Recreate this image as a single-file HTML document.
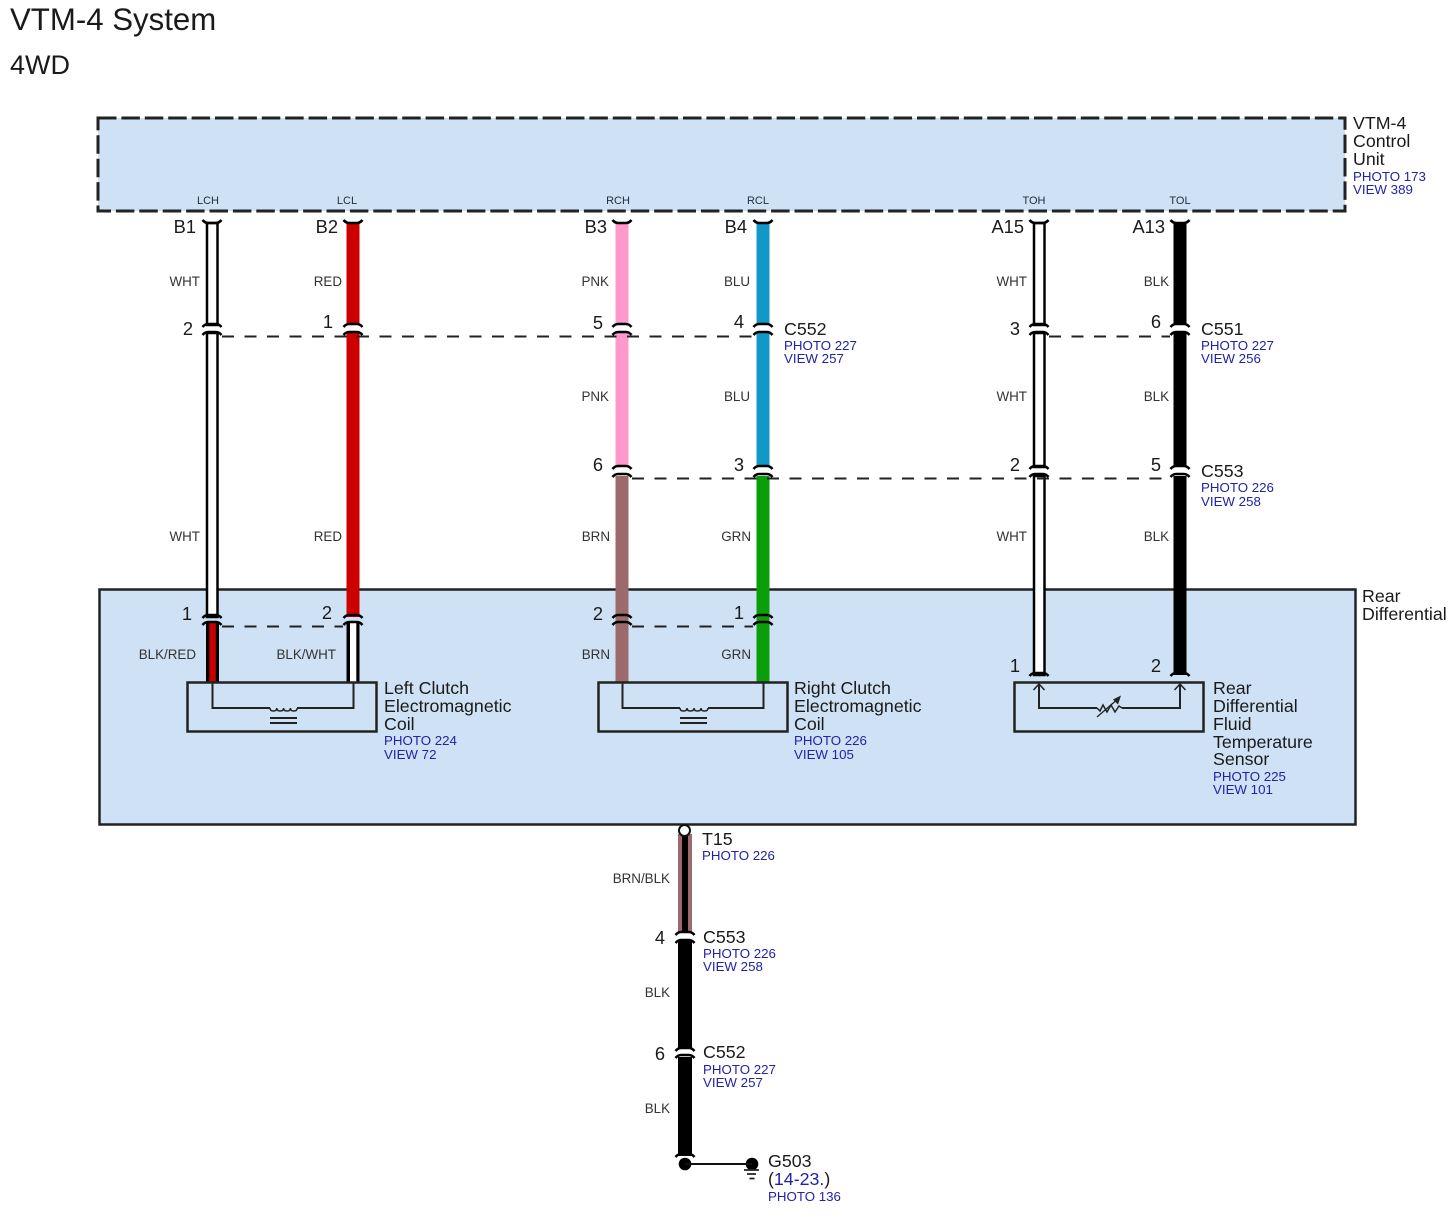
<!DOCTYPE html>
<html><head><meta charset="utf-8"><style>
html,body{margin:0;padding:0;background:#fff}
svg{display:block}
text{font-family:"Liberation Sans",sans-serif;fill:#1a1a1a}
.h{font-size:17.800px}.p{font-size:13.300px;fill:#2222a8}.w{font-size:13.400px;fill:#333;text-anchor:end}.t{font-size:11px;fill:#1c2c44;text-anchor:middle}.n{font-size:18.300px;text-anchor:end}
</style></head><body>
<svg width="1454" height="1222" viewBox="0 0 1454 1222" xmlns="http://www.w3.org/2000/svg">
<defs>
<path id="ct" d="M-9.500 3Q-7 0 -4 0L4 0Q7 0 9.500 3" fill="none" stroke="#000" stroke-width="2.600"/>
<path id="cb" d="M-9.500 3Q-7 0 -4 0L4 0Q7 0 9.500 3" fill="none" stroke="#000" stroke-width="2.600"/>
<path id="cu" d="M-9.500 -2Q-7 1 -4 1L4 1Q7 1 9.500 -2" fill="none" stroke="#000" stroke-width="2.600"/>
</defs>
<rect width="1454" height="1222" fill="#fff"/>
<text x="10" y="30" style="font-size:31.200px">VTM-4 System</text>
<text x="10" y="74" style="font-size:27px">4WD</text>

<rect x="98" y="118" width="1247" height="93" fill="#cfe2f5" stroke="#222" stroke-width="3" stroke-dasharray="18.500 4.900"/>
<rect x="99.500" y="589.500" width="1256" height="235" fill="#cfe2f5" stroke="#222" stroke-width="2.500"/>

<g class="wires">
<!-- 212 -->
<rect x="207" y="223" width="10.500" height="102" fill="#fff" stroke="#000" stroke-width="2.500"/>
<rect x="207" y="333" width="10.500" height="284" fill="#fff" stroke="#000" stroke-width="2.500"/>
<rect x="206" y="623" width="13" height="59" fill="#000"/><rect x="209.300" y="623" width="6.500" height="59" fill="#c80000"/>
<!-- 353 -->
<rect x="346.500" y="223" width="13" height="102" fill="#cc0000"/>
<rect x="346.500" y="333" width="13" height="284" fill="#cc0000"/>
<rect x="346.500" y="623" width="13" height="59" fill="#000"/><rect x="350" y="623" width="6.300" height="59" fill="#fff"/>
<!-- 622 -->
<rect x="615.500" y="223" width="13" height="102" fill="#ff99cc"/>
<rect x="615.500" y="333" width="13" height="134" fill="#ff99cc"/>
<rect x="615.500" y="476" width="13" height="206" fill="#9c6a6a"/>
<!-- 763 -->
<rect x="756.500" y="223" width="13" height="102" fill="#0f98c8"/>
<rect x="756.500" y="333" width="13" height="134" fill="#0f98c8"/>
<rect x="756.500" y="476" width="13" height="206" fill="#0a9e0a"/>
<!-- 1039 -->
<rect x="1034" y="223" width="10.500" height="102" fill="#fff" stroke="#000" stroke-width="2.500"/>
<rect x="1034" y="333" width="10.500" height="134" fill="#fff" stroke="#000" stroke-width="2.500"/>
<rect x="1034" y="476" width="10.500" height="199" fill="#fff" stroke="#000" stroke-width="2.500"/>
<!-- 1180 -->
<rect x="1173.500" y="223" width="13" height="102" fill="#000"/>
<rect x="1173.500" y="333" width="13" height="134" fill="#000"/>
<rect x="1173.500" y="476" width="13" height="199" fill="#000"/>
<!-- bottom -->
<rect x="678" y="834" width="14" height="99" fill="#9c6a6a"/><rect x="682" y="834" width="6" height="99" fill="#000"/>
<rect x="678" y="941" width="14" height="107" fill="#000"/>
<rect x="678" y="1057" width="14" height="99" fill="#000"/>
</g>

<g fill="none" stroke="#222" stroke-width="2" stroke-dasharray="12 10.500">
<path d="M222 336.500H753"/><path d="M1049 336.500H1170"/>
<path d="M632 478.500H1170"/>
<path d="M222 626.500H343"/><path d="M632 626.500H753"/>
</g>

<!-- connector caps -->
<use href="#cu" x="212" y="222"/><use href="#cu" x="353" y="222"/><use href="#cu" x="622" y="222"/><use href="#cu" x="763" y="222"/><use href="#cu" x="1039" y="222"/><use href="#cu" x="1180" y="222"/>
<use href="#ct" x="212" y="324"/><use href="#ct" x="353" y="324"/><use href="#ct" x="622" y="324"/><use href="#ct" x="763" y="324"/><use href="#ct" x="1039" y="324"/><use href="#ct" x="1180" y="324"/>
<use href="#cb" x="212" y="332"/><use href="#cb" x="353" y="332"/><use href="#cb" x="622" y="332"/><use href="#cb" x="763" y="332"/><use href="#cb" x="1039" y="332"/><use href="#cb" x="1180" y="332"/>
<use href="#ct" x="622" y="466"/><use href="#ct" x="763" y="466"/><use href="#ct" x="1039" y="466"/><use href="#ct" x="1180" y="466"/>
<use href="#cb" x="622" y="474"/><use href="#cb" x="763" y="474"/><use href="#cb" x="1039" y="474"/><use href="#cb" x="1180" y="474"/>
<use href="#ct" x="212" y="615"/><use href="#ct" x="353" y="615"/><use href="#ct" x="622" y="615"/><use href="#ct" x="763" y="615"/>
<use href="#cb" x="212" y="622"/><use href="#cb" x="353" y="622"/><use href="#cb" x="622" y="622"/><use href="#cb" x="763" y="622"/>
<use href="#ct" x="1039" y="673"/><use href="#ct" x="1180" y="673"/>
<use href="#ct" x="685" y="932"/><use href="#cb" x="685" y="940"/>
<use href="#ct" x="685" y="1048"/><use href="#cb" x="685" y="1055"/>
<use href="#ct" x="685" y="1154"/>

<!-- components -->
<g fill="none" stroke="#222" stroke-width="2">
<rect x="187.500" y="682.500" width="189" height="49" stroke-width="2.500"/>
<path d="M212.500 683V708H270M297 708H353.500V683"/>
<path d="M270 708q0 3 3.400 3t3.400 -3q0 3 3.400 3t3.400 -3q0 3 3.400 3t3.400 -3q0 3 3.400 3t3.400 -3" stroke-width="1.500"/>
<path d="M270 718H297M270 723H297"/>
<rect x="598.500" y="682.500" width="189" height="49" stroke-width="2.500"/>
<path d="M622.500 683V708H680M708 708H763.500V683"/>
<path d="M680 708q0 3 3.500 3t3.500 -3q0 3 3.500 3t3.500 -3q0 3 3.500 3t3.500 -3q0 3 3.500 3t3.500 -3" stroke-width="1.500"/>
<path d="M680 718H707M680 723H707"/>
<rect x="1014.500" y="682.500" width="189" height="49" stroke-width="2.500"/>
<path d="M1039 684V708H1097M1122 708H1180V684"/>
<path d="M1033.500 690L1039 684L1044.500 690M1174.500 690L1180 684L1185.500 690" stroke-width="1.500"/>
<path d="M1097 708l3 3 3 -6 4 7 4 -7 4 7 4 -6 3 2" stroke-width="1.500"/>
<path d="M1097 717L1119 698" stroke-width="1.300"/>
<path d="M1121 695.500L1113 699.500L1118 704.500Z" fill="#222" stroke="none"/>
</g>

<!-- bottom dots -->
<circle cx="684.500" cy="830.500" r="5.500" fill="#fff" stroke="#111" stroke-width="2"/>
<circle cx="685" cy="1164" r="6.300" fill="#000"/>
<circle cx="752" cy="1164" r="6.300" fill="#000"/>
<path d="M685 1164H752" stroke="#111" stroke-width="2"/>
<path d="M744 1170H759M747 1174H756M749.500 1178.500H754.500" stroke="#222" stroke-width="1.800"/>

<!-- pin names -->
<text class="t" x="208" y="204">LCH</text><text class="t" x="347" y="204">LCL</text><text class="t" x="618" y="204">RCH</text><text class="t" x="758" y="204">RCL</text><text class="t" x="1034" y="204">TOH</text><text class="t" x="1180" y="204">TOL</text>

<!-- pin ids -->
<text class="n" x="196" y="233">B1</text><text class="n" x="338" y="233">B2</text><text class="n" x="607" y="233">B3</text><text class="n" x="747" y="233">B4</text><text class="n" x="1024" y="233">A15</text><text class="n" x="1165" y="233">A13</text>
<text class="n" x="193" y="335">2</text><text class="n" x="333" y="328">1</text><text class="n" x="603" y="329">5</text><text class="n" x="744" y="328">4</text><text class="n" x="1020" y="335">3</text><text class="n" x="1161" y="328">6</text>
<text class="n" x="603" y="471">6</text><text class="n" x="744" y="471">3</text><text class="n" x="1020" y="471">2</text><text class="n" x="1161" y="471">5</text>
<text class="n" x="192" y="620">1</text><text class="n" x="332" y="619">2</text><text class="n" x="603" y="620">2</text><text class="n" x="744" y="619">1</text>
<text class="n" x="1020" y="672">1</text><text class="n" x="1161" y="672">2</text>
<text class="n" x="665" y="944">4</text><text class="n" x="665" y="1060">6</text>

<!-- wire colours -->
<text class="w" x="200" y="286">WHT</text><text class="w" x="342" y="286">RED</text><text class="w" x="609" y="286">PNK</text><text class="w" x="750" y="286">BLU</text><text class="w" x="1027" y="286">WHT</text><text class="w" x="1169" y="286">BLK</text>
<text class="w" x="609" y="401">PNK</text><text class="w" x="750" y="401">BLU</text><text class="w" x="1027" y="401">WHT</text><text class="w" x="1169" y="401">BLK</text>
<text class="w" x="200" y="541">WHT</text><text class="w" x="342" y="541">RED</text><text class="w" x="610" y="541">BRN</text><text class="w" x="751" y="541">GRN</text><text class="w" x="1027" y="541">WHT</text><text class="w" x="1169" y="541">BLK</text>
<text class="w" x="196" y="659">BLK/RED</text><text class="w" x="336" y="659">BLK/WHT</text><text class="w" x="610" y="659">BRN</text><text class="w" x="751" y="659">GRN</text>
<text class="w" x="670" y="883">BRN/BLK</text><text class="w" x="670" y="997">BLK</text><text class="w" x="670" y="1113">BLK</text>

<!-- callouts -->
<text class="h" x="1353" y="129">VTM-4</text><text class="h" x="1353" y="147">Control</text><text class="h" x="1353" y="165">Unit</text>
<text class="p" x="1353" y="181">PHOTO 173</text><text class="p" x="1353" y="194">VIEW 389</text>
<text class="h" x="784" y="335">C552</text><text class="p" x="784" y="350">PHOTO 227</text><text class="p" x="784" y="363">VIEW 257</text>
<text class="h" x="1201" y="335">C551</text><text class="p" x="1201" y="350">PHOTO 227</text><text class="p" x="1201" y="363">VIEW 256</text>
<text class="h" x="1201" y="477">C553</text><text class="p" x="1201" y="492">PHOTO 226</text><text class="p" x="1201" y="506">VIEW 258</text>
<text class="h" x="1362" y="602">Rear</text><text class="h" x="1362" y="620">Differential</text>
<text class="h" x="384" y="694">Left Clutch</text><text class="h" x="384" y="712">Electromagnetic</text><text class="h" x="384" y="730">Coil</text>
<text class="p" x="384" y="745">PHOTO 224</text><text class="p" x="384" y="759">VIEW 72</text>
<text class="h" x="794" y="694">Right Clutch</text><text class="h" x="794" y="712">Electromagnetic</text><text class="h" x="794" y="730">Coil</text>
<text class="p" x="794" y="745">PHOTO 226</text><text class="p" x="794" y="759">VIEW 105</text>
<text class="h" x="1213" y="694">Rear</text><text class="h" x="1213" y="712">Differential</text><text class="h" x="1213" y="730">Fluid</text><text class="h" x="1213" y="748">Temperature</text><text class="h" x="1213" y="765">Sensor</text>
<text class="p" x="1213" y="781">PHOTO 225</text><text class="p" x="1213" y="794">VIEW 101</text>
<text class="h" x="702" y="845">T15</text><text class="p" x="702" y="860">PHOTO 226</text>
<text class="h" x="703" y="943">C553</text><text class="p" x="703" y="958">PHOTO 226</text><text class="p" x="703" y="971">VIEW 258</text>
<text class="h" x="703" y="1058">C552</text><text class="p" x="703" y="1074">PHOTO 227</text><text class="p" x="703" y="1087">VIEW 257</text>
<text class="h" x="768" y="1167">G503</text>
<text class="h" x="768" y="1185">(<tspan fill="#2222a8">14-23.</tspan>)</text>
<text class="p" x="768" y="1201">PHOTO 136</text>
</svg>
</body></html>
